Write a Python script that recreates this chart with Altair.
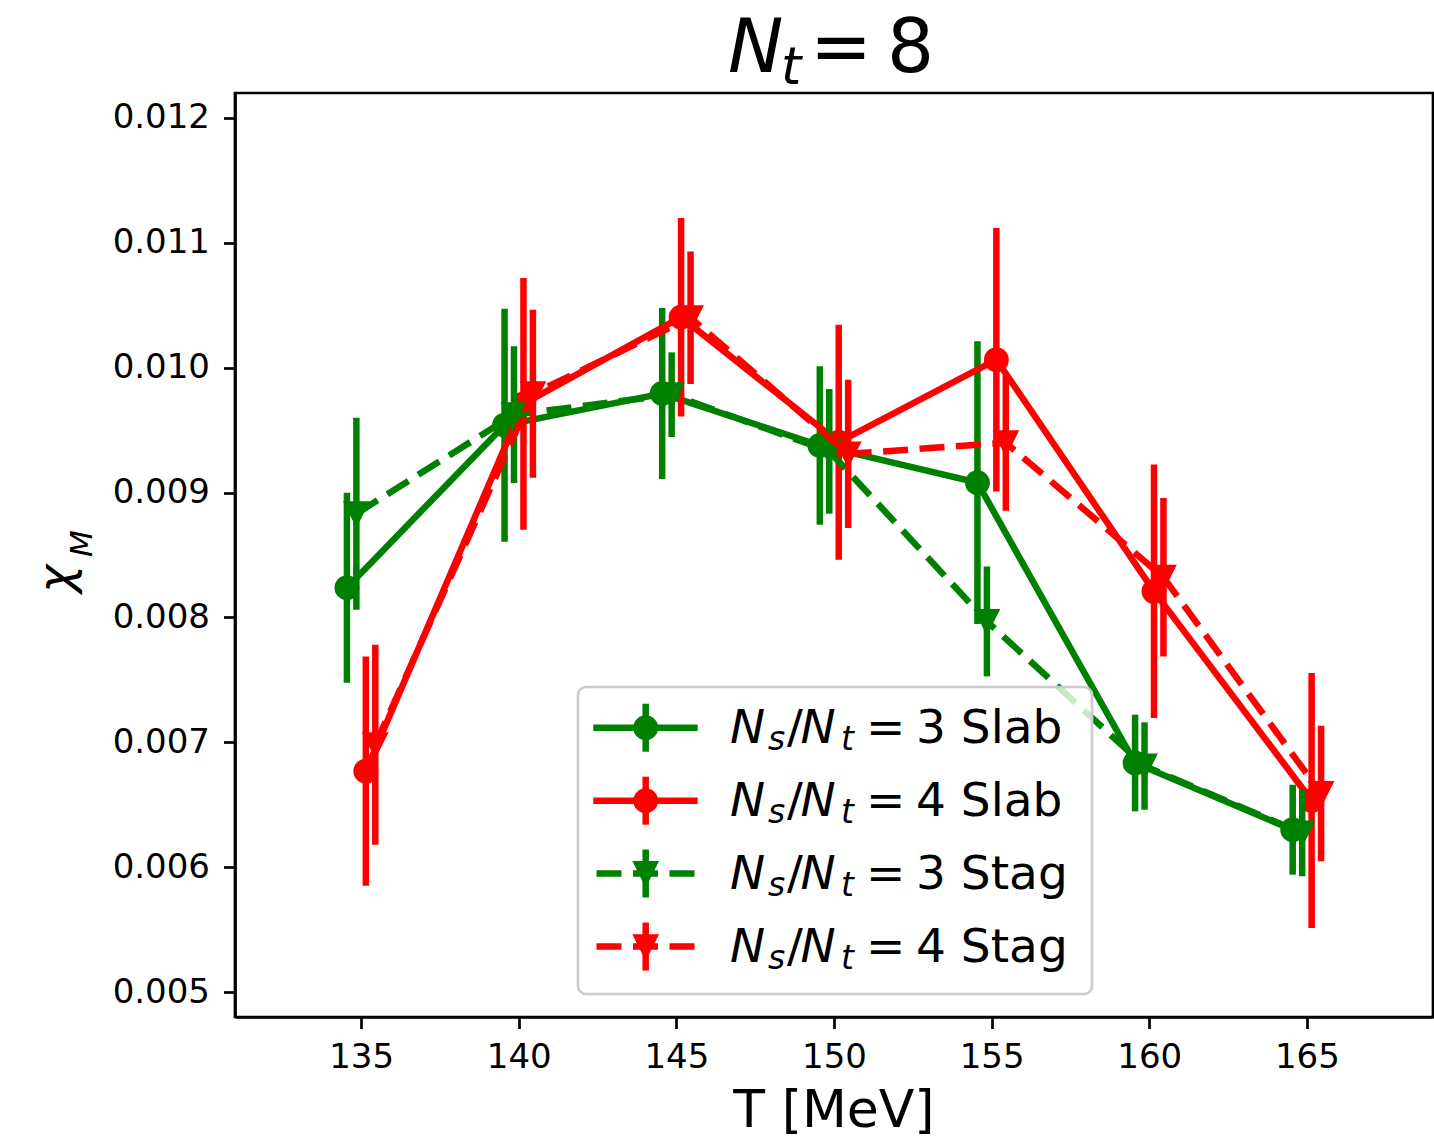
import altair as alt
import pandas as pd

# Temperatures of the simulation points (MeV)
T_BASE = [135, 140, 145, 150, 155, 160, 165]

# Magnetic susceptibility chi_M and its errors for each lattice setup
slab3 = [0.008238, 0.009540, 0.009793, 0.009377, 0.009079, 0.006834, 0.006300]
slab3_err = [0.000761, 0.000933, 0.000685, 0.000634, 0.001132, 0.000387, 0.000360]
slab4 = [0.006769, 0.009710, 0.010404, 0.009403, 0.010064, 0.008209, 0.006534]
slab4_err = [0.000918, 0.001008, 0.000794, 0.000941, 0.001055, 0.001015, 0.001021]
stag3 = [0.008831, 0.009624, 0.009784, 0.009330, 0.007968, 0.006810, 0.006274]
stag3_err = [0.000769, 0.000547, 0.000339, 0.000499, 0.000440, 0.000350, 0.000347]
stag4 = [0.006981, 0.009792, 0.010400, 0.009310, 0.009399, 0.008322, 0.006590]
stag4_err = [0.000801, 0.000673, 0.000531, 0.000594, 0.000545, 0.000634, 0.000543]

# Small horizontal shifts so the error bars do not overlap
SHIFT = {"slab3": -0.45, "stag3": -0.15, "slab4": 0.15, "stag4": 0.45}

FONT = "DejaVu Sans"
GREEN = "#008000"
RED = "#ff0000"
TRI_DOWN = "M-1,-1L1,-1L0,1Z"
DASH = [25, 11.5]
LW = 6.5

# plot area geometry (pixels)
X0, Y0 = 235, 93
W, H = 1198, 924

series = [
    # key, values, errors, colour, dashed, marker
    ("slab3", slab3, slab3_err, GREEN, False, "circle"),
    ("slab4", slab4, slab4_err, RED, False, "circle"),
    ("stag3", stag3, stag3_err, GREEN, True, TRI_DOWN),
    ("stag4", stag4, stag4_err, RED, True, TRI_DOWN),
]

xscale = alt.Scale(domain=[131, 169], nice=False, zero=False)
yscale = alt.Scale(domain=[0.0048, 0.0122], nice=False, zero=False)

layers = []
for key, vals, errs, col, dashed, shape in series:
    df = pd.DataFrame({
        "T": [t + SHIFT[key] for t in T_BASE],
        "chi": vals,
        "lo": [v - e for v, e in zip(vals, errs)],
        "hi": [v + e for v, e in zip(vals, errs)],
    })
    base = alt.Chart(df)
    x = alt.X("T:Q", scale=xscale,
              axis=alt.Axis(values=[135, 140, 145, 150, 155, 160, 165], format="d",
                            title=None, labelPadding=12))
    line_kw = dict(color=col, strokeWidth=LW)
    if dashed:
        line_kw["strokeDash"] = DASH
    layers.append(base.mark_line(**line_kw).encode(
        x=x,
        y=alt.Y("chi:Q", scale=yscale,
                axis=alt.Axis(values=[0.005, 0.006, 0.007, 0.008, 0.009, 0.010, 0.011, 0.012],
                              format=".3f", title=None, labelPadding=14)),
    ))
    layers.append(base.mark_rule(color=col, strokeWidth=LW).encode(
        x=x, y=alt.Y("lo:Q", scale=yscale), y2="hi:Q"))
    layers.append(base.mark_point(shape=shape, filled=True, size=480, opacity=1,
                                  color=col, stroke=col, strokeWidth=3).encode(
        x=x, y=alt.Y("chi:Q", scale=yscale)))


def one():
    return alt.Chart(pd.DataFrame({"k": [0]}))


def text_piece(s, px, py, size, italic=False, angle=0, align="left"):
    kw = dict(font=FONT, fontSize=size, align=align, baseline="alphabetic",
              color="black", fontStyle="italic" if italic else "normal")
    if angle:
        kw["angle"] = angle
    return alt.Chart(pd.DataFrame({"s": [s]})).mark_text(**kw).encode(
        text="s:N", x=alt.value(px - X0), y=alt.value(py - Y0))


# title  N_t = 8
layers += [
    text_piece("N", 728, 72, 74, italic=True),
    text_piece("t", 781, 84, 52, italic=True),
    text_piece("=", 810, 72, 74),
    text_piece("8", 887, 72, 74),
]

# axis titles
layers.append(text_piece("T [MeV]", 834, 1127, 52, align="center"))
layers += [
    text_piece("χ", 72, 593, 48, italic=True, angle=270),
    text_piece("M", 92, 557, 31, italic=True, angle=270),
]

# legend frame
layers.append(one().mark_rect(cornerRadius=8, fill="white", fillOpacity=0.8,
                              stroke="#cccccc", strokeWidth=2.7).encode(
    x=alt.value(578 - X0), x2=alt.value(1092 - X0),
    y=alt.value(687 - Y0), y2=alt.value(994 - Y0)))

legend_rows = [
    ("3 Slab", GREEN, False, "circle"),
    ("4 Slab", RED, False, "circle"),
    ("3 Stag", GREEN, True, TRI_DOWN),
    ("4 Stag", RED, True, TRI_DOWN),
]
row_y = [727.7, 800.7, 873.5, 946.6]
hx = 645.7
for (lab, col, dashed, shape), cy in zip(legend_rows, row_y):
    kw = dict(color=col, strokeWidth=LW)
    if dashed:
        kw["strokeDash"] = DASH
        xa, xb = 596.5, 694.5
    else:
        xa, xb = 593.3, 697.7
    layers.append(one().mark_rule(**kw).encode(
        x=alt.value(xa - X0), x2=alt.value(xb - X0), y=alt.value(cy - Y0)))
    layers.append(one().mark_rule(color=col, strokeWidth=LW).encode(
        x=alt.value(hx - X0), y=alt.value(cy - 24 - Y0), y2=alt.value(cy + 24 - Y0)))
    layers.append(one().mark_point(shape=shape, filled=True, size=480, opacity=1,
                                   color=col, stroke=col, strokeWidth=3).encode(
        x=alt.value(hx - X0), y=alt.value(cy - Y0)))
    base_y = cy + 15.6
    sub_y = cy + 22.5
    layers += [
        text_piece("N", 730, base_y, 47, italic=True),
        text_piece("s", 768, sub_y, 33, italic=True),
        text_piece("/", 787, base_y, 47),
        text_piece("N", 800.5, base_y, 47, italic=True),
        text_piece("t", 841, sub_y, 33, italic=True),
        text_piece("=", 866, base_y, 47),
        text_piece(lab, 916, base_y, 47),
    ]

chart = alt.layer(*layers).properties(
    width=W, height=H,
    autosize=alt.AutoSizeParams(type="none"),
    padding={"left": X0, "top": Y0, "right": 1434 - X0 - W, "bottom": 1139 - Y0 - H},
    background="white",
).configure_view(
    stroke="black", strokeWidth=2.7
).configure_axis(
    grid=False, domainColor="black", domainWidth=2.7,
    tickColor="black", tickWidth=2.7, tickSize=11.5,
    labelFont=FONT, labelFontSize=34, labelColor="black",
)

chart.save("out.html", embed_options={"renderer": "svg", "actions": False})
